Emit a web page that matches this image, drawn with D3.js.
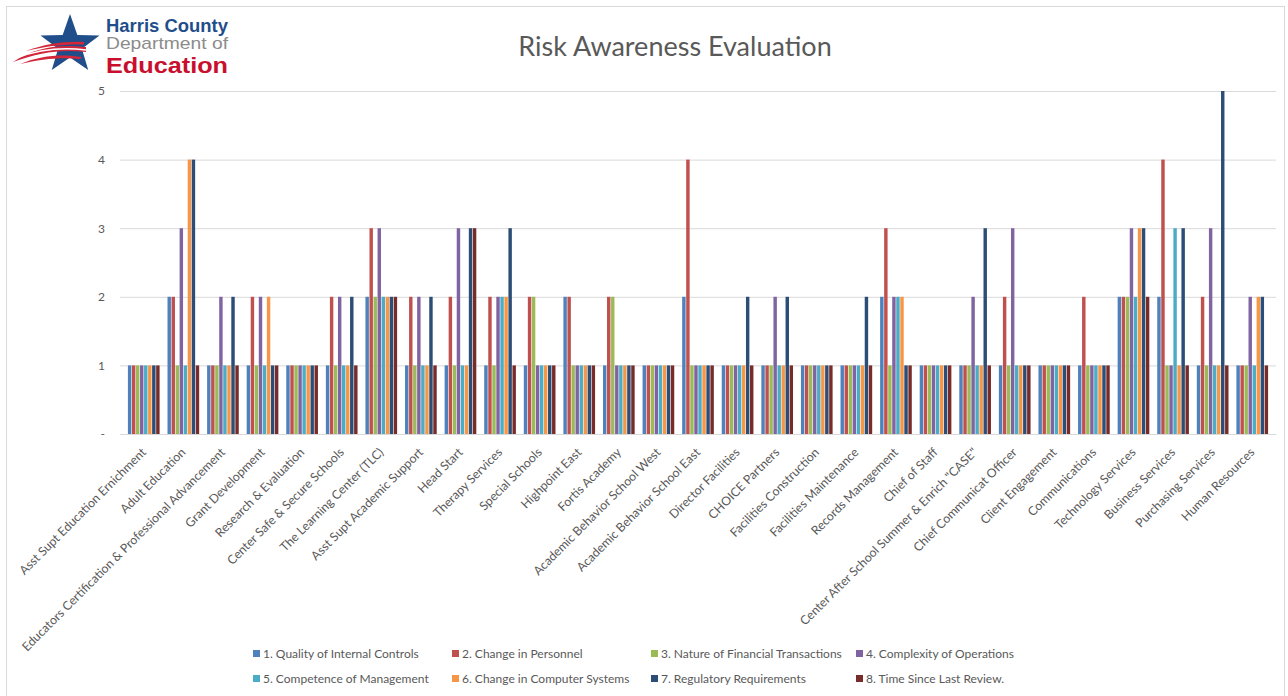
<!DOCTYPE html>
<html>
<head>
<meta charset="utf-8">
<title>Risk Awareness Evaluation</title>
<script src="https://cdn.jsdelivr.net/npm/d3@7"></script>
<style>
  body { margin: 0; background: #fff; }
  svg text { font-family: Lato, "Open Sans", sans-serif; fill: #595959; }
</style>
</head>
<body>
<script>
// departments along the x axis
var categories = ["Asst Supt Education Ernichment", "Adult Education",
  "Educators Certification & Professional Advancement", "Grant Development",
  "Research & Evaluation", "Center Safe & Secure Schools", "The Learning Center (TLC)",
  "Asst Supt Academic Support", "Head Start", "Therapy Services", "Special Schools",
  "Highpoint East", "Fortis Academy", "Academic Behavior School West",
  "Academic Behavior School East", "Director Facilities", "CHOICE Partners",
  "Facilities Construction", "Facilities Maintenance", "Records Management",
  "Chief of Staff", "Center After School Summer & Enrich \"CASE\"",
  "Chief Communicat Officer", "Client Engagement", "Communications",
  "Technology Services", "Business  Services", "Purchasing Services", "Human Resources"];

var seriesNames = ["1. Quality of Internal Controls", "2. Change in Personnel",
  "3. Nature of Financial Transactions", "4. Complexity of Operations",
  "5. Competence of Management", "6. Change in Computer Systems",
  "7. Regulatory Requirements", "8. Time Since Last Review."];

var seriesColors = ["#4F81BD", "#C0504D", "#9BBB59", "#8064A2",
  "#4BACC6", "#F79646", "#2C4D75", "#772C2A"];

// one array per factor, in category order
var quality     = [1,2,1,1,1,1,2,1,1,1, 1,2,1,1,2,1,1,1,1,2, 1,1,1,1,1,2,2,1,1];
var personnel   = [1,2,1,2,1,2,3,2,2,2, 2,2,2,1,4,1,1,1,1,3, 1,1,2,1,2,2,4,2,1];
var nature      = [1,1,1,1,1,1,2,1,1,1, 2,1,2,1,1,1,1,1,1,1, 1,1,1,1,1,2,1,1,1];
var complexity  = [1,3,2,2,1,2,3,2,3,2, 1,1,1,1,1,1,2,1,1,2, 1,2,3,1,1,3,1,3,2];
var competence  = [1,1,1,1,1,1,2,1,1,2, 1,1,1,1,1,1,1,1,1,2, 1,1,1,1,1,2,3,1,1];
var computer    = [1,4,1,2,1,1,2,1,1,2, 1,1,1,1,1,1,1,1,1,2, 1,1,1,1,1,3,1,1,2];
var regulatory  = [1,4,2,1,1,2,2,2,3,3, 1,1,1,1,1,2,2,1,2,1, 1,3,1,1,1,3,3,5,2];
var timeSince   = [1,1,1,1,1,1,2,1,3,1, 1,1,1,1,1,1,1,1,1,1, 1,1,1,1,1,2,1,1,1];

var yTicks = [0, 1, 2, 3, 4, 5];
var yTickLabels = ["-", "1", "2", "3", "4", "5"];

var seriesValues = [quality, personnel, nature, complexity, competence, computer, regulatory, timeSince];

var W = 1288, H = 696;
var margin = {top: 91, right: 12, bottom: 262, left: 120};
var width = W - margin.left - margin.right,
    height = H - margin.top - margin.bottom;

var svg = d3.select("body").append("svg")
  .attr("width", W)
  .attr("height", H);

// chart area border
svg.append("rect")
  .attr("x", 6.5).attr("y", 6.5)
  .attr("width", 1278).attr("height", 720)
  .attr("fill", "none").attr("stroke", "#D9D9D9");

// logo
var logo = svg.append("g").attr("class", "logo");
var star = [];
for (var i = 0; i < 10; i++) {
  var r = i % 2 == 0 ? 31 : 12.5;
  var a = -Math.PI / 2 + i * Math.PI / 5;
  star.push([70 + r * Math.cos(a), 45 + r * Math.sin(a)]);
}
logo.append("path")
  .attr("d", d3.line()(star) + "Z")
  .attr("fill", "#1F4E8A");
// red and white swoosh across the star
logo.append("path")
  .attr("d", "M13,62 C35,47 60,44 86,47 L86,52 C62,49 40,52 13,62 Z")
  .attr("fill", "#D2273A");
logo.append("path")
  .attr("d", "M26,51 C45,44 65,41 84,42 L84,44.5 C64,44 46,46 26,51 Z")
  .attr("fill", "#D2273A");
logo.append("path")
  .attr("d", "M20,64 C42,55 62,54 82,57 L80,59 C60,57 42,59 20,64 Z")
  .attr("fill", "#D2273A");
logo.append("path")
  .attr("d", "M16,58 C40,49 62,47 86,50")
  .attr("fill", "none").attr("stroke", "#fff").attr("stroke-width", 1.6);
logo.append("text").text("Harris County")
  .attr("x", 106).attr("y", 32)
  .style("font-family", "'Liberation Sans', Arial, sans-serif")
  .style("font-weight", "bold").style("font-size", "19px")
  .style("fill", "#1F4E8A")
  .attr("textLength", 122).attr("lengthAdjust", "spacingAndGlyphs");
logo.append("text").text("Department of")
  .attr("x", 106).attr("y", 49)
  .style("font-family", "'Liberation Sans', Arial, sans-serif")
  .style("font-size", "17px")
  .style("fill", "#8C8C8C")
  .attr("textLength", 122).attr("lengthAdjust", "spacingAndGlyphs");
logo.append("text").text("Education")
  .attr("x", 106).attr("y", 73)
  .style("font-family", "'Liberation Sans', Arial, sans-serif")
  .style("font-weight", "bold").style("font-size", "22px")
  .style("fill", "#C8102E")
  .attr("textLength", 122).attr("lengthAdjust", "spacingAndGlyphs");

// title
svg.append("text")
  .attr("x", 675).attr("y", 56)
  .attr("text-anchor", "middle")
  .style("font-size", "27px")
  .text("Risk Awareness Evaluation");

var g = svg.append("g")
  .attr("transform", "translate(" + margin.left + "," + margin.top + ")");

var x0 = d3.scaleBand()
  .domain(categories)
  .range([0, width])
  .paddingInner(0.2)
  .paddingOuter(0.2);

var x1 = d3.scaleBand()
  .domain(d3.range(seriesNames.length))
  .range([0, x0.bandwidth()])
  .paddingInner(0.15);

var y = d3.scaleLinear()
  .domain([0, 5])
  .range([height, 0]);

// gridlines + y labels
var yAxis = g.append("g")
  .call(d3.axisLeft(y)
    .tickValues(yTicks)
    .tickSize(-width)
    .tickPadding(15)
    .tickFormat(function(d, i) { return yTickLabels[i]; }));
yAxis.select(".domain").remove();
yAxis.selectAll("line").attr("stroke", "#D9D9D9");
yAxis.selectAll("text").style("font-size", "12px").style("fill", "#595959");

// bars
var groups = g.selectAll(".cat")
  .data(categories)
  .enter().append("g")
  .attr("class", "cat")
  .attr("transform", function(d) { return "translate(" + x0(d) + ",0)"; });

groups.selectAll("rect")
  .data(function(d, ci) {
    return seriesValues.map(function(vals, si) { return {s: si, v: vals[ci]}; });
  })
  .enter().append("rect")
  .attr("x", function(d) { return x1(d.s); })
  .attr("width", x1.bandwidth())
  .attr("y", function(d) { return y(d.v); })
  .attr("height", function(d) { return y(0) - y(d.v); })
  .attr("fill", function(d) { return seriesColors[d.s]; });

// x axis
var xAxis = g.append("g")
  .attr("transform", "translate(0," + height + ")")
  .call(d3.axisBottom(x0).tickSize(0).tickPadding(0));
xAxis.select(".domain").attr("stroke", "#D9D9D9");
xAxis.selectAll("text")
  .style("font-size", "12.3px")
  .style("fill", "#595959")
  .attr("text-anchor", "end")
  .attr("dy", "0.35em")
  .attr("transform", "translate(0,16) rotate(-45)");

// legend
var legend = svg.append("g")
  .selectAll(".leg")
  .data(seriesNames)
  .enter().append("g")
  .attr("class", "leg")
  .attr("transform", function(d, i) {
    return "translate(" + [253, 452, 651, 856][i % 4] + "," + (654 + Math.floor(i / 4) * 25) + ")";
  });
legend.append("rect")
  .attr("x", 0).attr("y", -4)
  .attr("width", 7).attr("height", 7)
  .attr("fill", function(d, i) { return seriesColors[i]; });
legend.append("text")
  .attr("x", 10).attr("y", 0)
  .attr("dy", "0.35em")
  .style("font-size", "12px")
  .text(function(d) { return d; });
</script>
</body>
</html>
